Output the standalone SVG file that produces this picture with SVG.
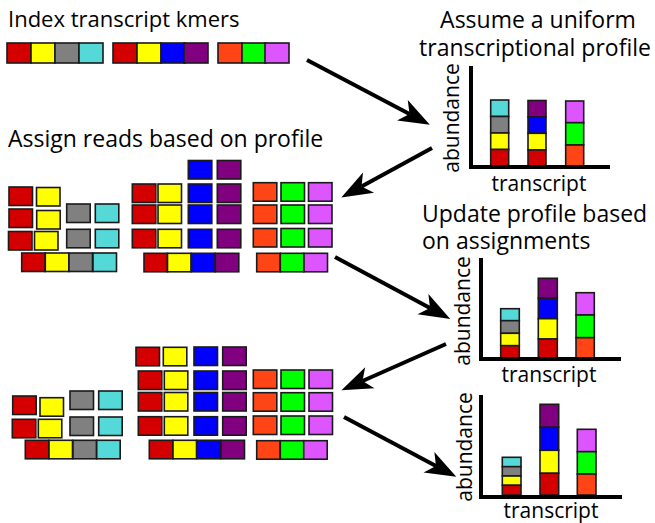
<svg xmlns="http://www.w3.org/2000/svg" width="655" height="523" viewBox="0 0 655 523">
  <style>
    text { font-family: "Open Sans", "Noto Sans", "DejaVu Sans", sans-serif; fill: #000; }
    .title { font-size: 23px; }
    .axlbl { font-size: 21px; }
    rect { stroke: #1a1a1a; stroke-width: 1.6; }
    .r { fill: #d40000; }
    .y { fill: #ffff00; }
    .g { fill: #808080; }
    .c { fill: #55d8d8; }
    .b { fill: #0000ff; }
    .p { fill: #800080; }
    .o { fill: #ff4415; }
    .gr { fill: #00ff00; }
    .m { fill: #dd55ff; }
    .k rect { width: 24px; height: 20px; }
    .rd rect { width: 23.5px; height: 18.5px; }
    .axis { fill: none; stroke: #000; stroke-width: 4; }
    .arrow { fill: none; stroke: #000; stroke-width: 4; marker-end: url(#head); }
  </style>
  <defs>
    <marker id="head" markerUnits="userSpaceOnUse" orient="auto" refX="0" refY="0" markerWidth="40" markerHeight="30" viewBox="-10 -15 40 30" overflow="visible">
      <path d="M23,0 L-8,-11.5 L0,0 L-8,11.5 Z" fill="#000"/>
    </marker>
  </defs>

  <!-- headings -->
  <g id="label-index">
    <text class="title" x="8" y="27" style="font-size:22px">Index transcript kmers</text>
  </g>
  <g id="label-assume">
    <text class="title" text-anchor="middle"><tspan x="538" y="28">Assume a uniform</tspan><tspan x="535" y="56">transcriptional profile</tspan></text>
  </g>
  <g id="label-assign">
    <text class="title" x="8" y="147">Assign reads based on profile</text>
  </g>
  <g id="label-update">
    <text class="title"><tspan x="422" y="222">Update profile based</tspan><tspan x="422" y="249">on assignments</tspan></text>
  </g>

  <!-- transcript kmer index -->
  <g id="kmers" class="k">
    <rect class="r" x="7" y="43"/><rect class="y" x="31" y="43"/><rect class="g" x="55" y="43"/><rect class="c" x="79" y="43"/>
    <rect class="r" x="113" y="43"/><rect class="y" x="137" y="43"/><rect class="b" x="161" y="43"/><rect class="p" x="184" y="43"/>
    <rect class="o" x="218" y="43"/><rect class="gr" x="242" y="43"/><rect class="m" x="265" y="43"/>
  </g>

  <!-- first read assignment -->
  <g id="reads-1" class="rd">
    <rect class="r" x="9" y="187"/><rect class="y" x="36.5" y="187.5"/>
    <rect class="r" x="9" y="209"/><rect class="y" x="36.7" y="210.5"/>
    <rect class="r" x="8.5" y="231.5"/><rect class="y" x="34.5" y="231.5"/>
    <rect class="g" x="66.7" y="204"/><rect class="c" x="95.3" y="204"/>
    <rect class="g" x="66.7" y="229.3"/><rect class="c" x="95.3" y="229.3"/>
    <rect class="r" x="21.7" y="253"/><rect class="y" x="45.3" y="253"/><rect class="g" x="69" y="253"/><rect class="c" x="93" y="253"/>

    <rect class="b" x="188.3" y="160.5"/><rect class="p" x="217.3" y="160.5"/>
    <rect class="r" x="132.3" y="184"/><rect class="y" x="158" y="184"/><rect class="b" x="188.3" y="184"/><rect class="p" x="217.3" y="184"/>
    <rect class="r" x="132.3" y="205"/><rect class="y" x="158" y="205"/><rect class="b" x="188.3" y="205"/><rect class="p" x="217.3" y="205"/>
    <rect class="r" x="132.3" y="229.3"/><rect class="y" x="158" y="229.3"/><rect class="b" x="188.3" y="229.3"/><rect class="p" x="217.3" y="229.3"/>
    <rect class="r" x="144" y="253.3"/><rect class="y" x="167.5" y="253.3"/><rect class="b" x="191.5" y="253.3"/><rect class="p" x="215.3" y="253.3"/>

    <rect class="o" x="253.3" y="182.7"/><rect class="gr" x="281" y="182.7"/><rect class="m" x="308.5" y="182.7"/>
    <rect class="o" x="253.3" y="205"/><rect class="gr" x="281" y="205"/><rect class="m" x="308.5" y="205"/>
    <rect class="o" x="253.3" y="228.5"/><rect class="gr" x="281" y="228.5"/><rect class="m" x="308.5" y="228.5"/>
    <rect class="o" x="256.7" y="253.3"/><rect class="gr" x="280.3" y="253.3"/><rect class="m" x="304" y="253.3"/>
  </g>

  <!-- second read assignment -->
  <g id="reads-2" class="rd">
    <rect class="r" x="12.7" y="396"/><rect class="y" x="40" y="397.7"/>
    <rect class="r" x="12.3" y="419.3"/><rect class="y" x="38.3" y="419.3"/>
    <rect class="g" x="70" y="391"/><rect class="c" x="98.7" y="391"/>
    <rect class="g" x="70" y="417"/><rect class="c" x="98.7" y="417"/>
    <rect class="r" x="25.3" y="440.3"/><rect class="y" x="49" y="440.3"/><rect class="g" x="73" y="440.3"/><rect class="c" x="96.7" y="440.3"/>

    <rect class="r" x="136" y="347.3"/><rect class="y" x="163.3" y="347.3"/><rect class="b" x="194" y="347"/><rect class="p" x="222.7" y="347"/>
    <rect class="r" x="138.3" y="371"/><rect class="y" x="164.3" y="371"/><rect class="b" x="194" y="371"/><rect class="p" x="222.7" y="371"/>
    <rect class="r" x="138.3" y="392.5"/><rect class="y" x="164.3" y="392.5"/><rect class="b" x="194" y="392.5"/><rect class="p" x="222.7" y="392.5"/>
    <rect class="r" x="138.3" y="416.7"/><rect class="y" x="164.3" y="416.7"/><rect class="b" x="194" y="416.7"/><rect class="p" x="222.7" y="416.7"/>
    <rect class="r" x="149.3" y="440.3"/><rect class="y" x="173" y="440.3"/><rect class="b" x="197" y="440.3"/><rect class="p" x="221" y="440.3"/>

    <rect class="o" x="253.3" y="370"/><rect class="gr" x="281" y="370"/><rect class="m" x="309" y="370"/>
    <rect class="o" x="253.3" y="392.7"/><rect class="gr" x="281" y="392.7"/><rect class="m" x="309" y="392.7"/>
    <rect class="o" x="253.3" y="416"/><rect class="gr" x="281" y="416"/><rect class="m" x="309" y="416"/>
    <rect class="o" x="256.7" y="440.7"/><rect class="gr" x="280.3" y="440.7"/><rect class="m" x="303.7" y="440.7"/>
  </g>

  <!-- uniform profile -->
  <g id="chart-1">
    <rect class="c" x="490.7" y="100" width="18" height="16.5"/>
    <rect class="g" x="490.7" y="116.5" width="18" height="16.5"/>
    <rect class="y" x="490.7" y="133" width="18" height="16.5"/>
    <rect class="r" x="490.7" y="149.5" width="18" height="16.5"/>
    <rect class="p" x="528" y="100.5" width="18" height="16.5"/>
    <rect class="b" x="528" y="117" width="18" height="16.3"/>
    <rect class="y" x="528" y="133.3" width="18" height="16.7"/>
    <rect class="r" x="528" y="150" width="18" height="16"/>
    <rect class="m" x="565.7" y="101" width="18" height="21.7"/>
    <rect class="gr" x="565.7" y="122.7" width="18" height="22.3"/>
    <rect class="o" x="565.7" y="145" width="18" height="21"/>
    <path class="axis" d="M471,66 V167 H610"/>
    <text class="axlbl" transform="translate(459,118) rotate(-90)" text-anchor="middle">abundance</text>
    <text class="axlbl" x="539" y="191" text-anchor="middle">transcript</text>
  </g>

  <!-- profile after first update -->
  <g id="chart-2">
    <rect class="c" x="500.7" y="308.7" width="18.6" height="12"/>
    <rect class="g" x="500.7" y="320.7" width="18.6" height="12.6"/>
    <rect class="y" x="500.7" y="333.3" width="18.6" height="12.4"/>
    <rect class="r" x="500.7" y="345.7" width="18.6" height="12.3"/>
    <rect class="p" x="538.3" y="278.3" width="19" height="20"/>
    <rect class="b" x="538.3" y="298.3" width="19" height="20.4"/>
    <rect class="y" x="538.3" y="318.7" width="19" height="20.3"/>
    <rect class="r" x="538.3" y="339" width="19" height="19"/>
    <rect class="m" x="576" y="292.7" width="18.3" height="22.3"/>
    <rect class="gr" x="576" y="315" width="18.3" height="22.7"/>
    <rect class="o" x="576" y="337.7" width="18.3" height="20.3"/>
    <path class="axis" d="M481,258 V359 H621"/>
    <text class="axlbl" transform="translate(470,311) rotate(-90)" text-anchor="middle">abundance</text>
    <text class="axlbl" x="549" y="382" text-anchor="middle">transcript</text>
  </g>

  <!-- profile after second update -->
  <g id="chart-3">
    <rect class="c" x="502.3" y="457.3" width="18.7" height="9.4"/>
    <rect class="g" x="502.3" y="466.7" width="18.7" height="9.3"/>
    <rect class="y" x="502.3" y="476" width="18.7" height="9.3"/>
    <rect class="r" x="502.3" y="485.3" width="18.7" height="9.7"/>
    <rect class="p" x="540" y="404.3" width="18.7" height="23"/>
    <rect class="b" x="540" y="427.3" width="18.7" height="23"/>
    <rect class="y" x="540" y="450.3" width="18.7" height="23"/>
    <rect class="r" x="540" y="473.3" width="18.7" height="21.7"/>
    <rect class="m" x="577.3" y="429.3" width="18.7" height="22.4"/>
    <rect class="gr" x="577.3" y="451.7" width="18.7" height="22.3"/>
    <rect class="o" x="577.3" y="474" width="18.7" height="21"/>
    <path class="axis" d="M481,395 V497 H622"/>
    <text class="axlbl" transform="translate(471.5,447) rotate(-90)" text-anchor="middle">abundance</text>
    <text class="axlbl" x="551" y="518" text-anchor="middle">transcript</text>
  </g>

  <!-- flow arrows -->
  <g id="connectors">
    <path class="arrow" d="M307,60 L409.5,114"/>
    <path class="arrow" d="M432,148 L361.5,186.5"/>
    <path class="arrow" d="M335,257 L430,308"/>
    <path class="arrow" d="M446,344 L362.5,381"/>
    <path class="arrow" d="M344,417 L436,466"/>
  </g>
</svg>
